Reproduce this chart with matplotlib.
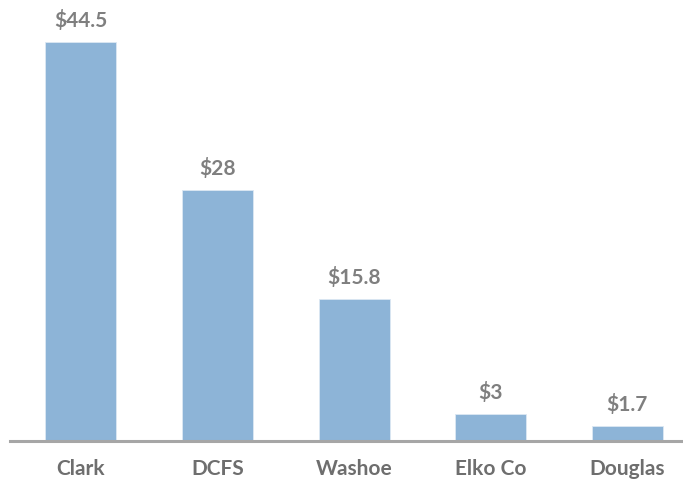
import matplotlib
matplotlib.use("Agg")
import matplotlib.pyplot as plt

categories = ["Clark", "DCFS", "Washoe", "Elko Co", "Douglas"]
values = [44.5, 28, 15.8, 3, 1.7]
labels = ["$44.5", "$28", "$15.8", "$3", "$1.7"]

bar_color = "#8DB4D7"
text_color = "#7F7F7F"

fig = plt.figure(figsize=(6.83, 4.91), dpi=100)
ax = fig.add_axes([10 / 683, 50 / 491, 673 / 683, 441 / 491])

x = range(len(categories))
bars = ax.bar(x, values, width=0.52, color=bar_color, edgecolor="#DCE8F3", linewidth=0.6, zorder=2)

for b, lab in zip(bars, labels):
    ax.annotate(lab, (b.get_x() + b.get_width() / 2, b.get_height()),
                xytext=(0, 8), textcoords="offset points",
                ha="center", va="bottom", fontsize=15, fontweight="bold",
                color=text_color, family="Lato")

ax.set_xlim(-0.52, 4.41)
ax.set_ylim(0, 49.2)
ax.set_xticks(list(x))
ax.set_xticklabels(categories, fontsize=15, fontweight="bold", color="#6E6E6E", family="Lato")
ax.tick_params(axis="x", length=0, pad=13)
ax.set_yticks([])
for s in ["top", "right", "left"]:
    ax.spines[s].set_visible(False)
ax.spines["bottom"].set_color("#A6A6A6")
ax.spines["bottom"].set_linewidth(2.2)

fig.savefig("out.png", dpi=100, facecolor="white")
